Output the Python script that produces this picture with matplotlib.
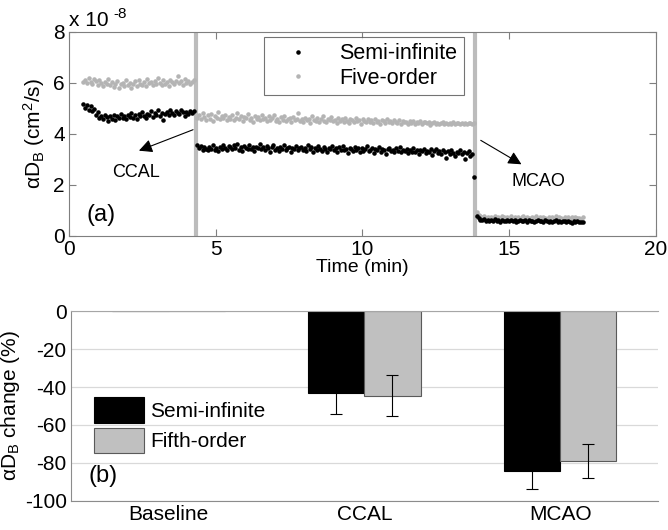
import numpy as np
import matplotlib
matplotlib.use("Agg")
import matplotlib.pyplot as plt

plt.rcParams['font.family'] = ['Liberation Sans', 'DejaVu Sans']
plt.rcParams['mathtext.fontset'] = 'custom'
plt.rcParams['mathtext.rm'] = 'Liberation Sans'
plt.rcParams['mathtext.it'] = 'Liberation Sans:italic'
plt.rcParams['axes.unicode_minus'] = False

# ---- panel (a): alpha*D_B time course, units of 1e-8 cm^2/s ----
t_base = (0.5, 4.25)
t_ccal = (4.38, 13.8)
t_mcao = (13.9, 17.5)
events = [4.32, 13.85]

semi_base = [5.15, 5.02, 5.12, 4.95, 5.08, 4.88, 4.98, 4.72, 4.85, 4.62, 4.70, 4.58, 4.75,
             4.66, 4.52, 4.68, 4.60, 4.73, 4.55, 4.70, 4.64, 4.78, 4.62, 4.69, 4.57, 4.74,
             4.66, 4.81, 4.63, 4.72, 4.58, 4.77, 4.68, 4.85, 4.70, 4.62, 4.79, 4.73, 4.88,
             4.67, 4.80, 4.74, 4.92, 4.71, 4.83, 4.55, 4.78, 4.86, 4.75, 4.95, 4.80, 4.72,
             4.89, 4.81, 4.76, 4.93, 4.84, 4.70, 4.87, 4.79, 4.91, 4.82, 4.88]
five_base = [6.05, 6.12, 5.98, 6.20, 6.02, 5.95, 6.15, 6.08, 5.92, 6.10, 6.00, 5.88, 6.05,
             5.97, 6.13, 5.90, 6.02, 5.85, 5.96, 6.08, 5.80, 5.94, 6.01, 5.87, 6.10, 5.93,
             5.99, 5.78, 5.95, 6.06, 5.89, 6.12, 5.97, 5.91, 6.04, 5.86, 6.15, 5.98, 6.03,
             5.90, 6.08, 5.95, 6.18, 6.00, 5.93, 6.10, 5.97, 6.05, 5.88, 6.12, 6.02, 5.94,
             6.08, 6.25, 5.99, 6.06, 5.92, 6.14, 6.00, 6.09, 5.96, 6.03, 6.11]

semi_ccal = [3.58, 3.45, 3.52, 3.38, 3.50, 3.42, 3.35, 3.48, 3.40, 3.55, 3.37, 3.46, 3.33, 3.50,
             3.41, 3.57, 3.44, 3.36, 3.52, 3.47, 3.39, 3.55, 3.43, 3.61, 3.38, 3.49, 3.34, 3.53,
             3.45, 3.40, 3.58, 3.42, 3.47, 3.31, 3.50, 3.44, 3.62, 3.39, 3.48, 3.36, 3.52, 3.43,
             3.30, 3.47, 3.55, 3.38, 3.45, 3.33, 3.50, 3.41, 3.58, 3.36, 3.44, 3.49, 3.28, 3.46,
             3.40, 3.53, 3.35, 3.43, 3.50, 3.38, 3.45, 3.32, 3.56, 3.41, 3.47, 3.29, 3.44, 3.37,
             3.52, 3.40, 3.34, 3.48, 3.42, 3.27, 3.45, 3.39, 3.51, 3.36, 3.43, 3.30, 3.47, 3.38,
             3.54, 3.35, 3.41, 3.26, 3.46, 3.39, 3.33, 3.49, 3.37, 3.43, 3.28, 3.45, 3.34, 3.40,
             3.52, 3.31, 3.38, 3.44, 3.25, 3.40, 3.35, 3.48, 3.30, 3.42, 3.36, 3.22, 3.39, 3.45,
             3.32, 3.37, 3.28, 3.43, 3.34, 3.50, 3.29, 3.38, 3.33, 3.41, 3.24, 3.36, 3.30, 3.45,
             3.27, 3.35, 3.20, 3.38, 3.31, 3.42, 3.26, 3.34, 3.29, 3.39, 3.18, 3.33, 3.40, 3.25,
             3.31, 3.22, 3.36, 3.28, 3.05, 3.33, 3.20, 3.38, 3.26, 3.12, 3.30, 3.24, 3.35, 3.19,
             3.28, 3.02, 3.25, 3.32, 3.15, 3.22, 2.32]
five_ccal = [4.62, 4.75, 4.58, 4.82, 4.66, 4.55, 4.72, 4.60, 4.78, 4.52, 4.68, 4.63, 4.85, 4.57,
             4.70, 4.61, 4.74, 4.54, 4.67, 4.59, 4.73, 4.56, 4.64, 4.80, 4.58, 4.69, 4.51, 4.66,
             4.62, 4.77, 4.55, 4.63, 4.48, 4.70, 4.59, 4.65, 4.53, 4.72, 4.57, 4.61, 4.50, 4.68,
             4.56, 4.62, 4.75, 4.52, 4.60, 4.47, 4.65, 4.55, 4.70, 4.49, 4.58, 4.63, 4.45, 4.67,
             4.54, 4.59, 4.82, 4.51, 4.57, 4.46, 4.64, 4.53, 4.60, 4.44, 4.69, 4.55, 4.50, 4.62,
             4.48, 4.58, 4.71, 4.52, 4.45, 4.60, 4.54, 4.66, 4.49, 4.56, 4.43, 4.61, 4.52, 4.57,
             4.47, 4.64, 4.50, 4.42, 4.58, 4.53, 4.46, 4.62, 4.49, 4.55, 4.40, 4.59, 4.51, 4.45,
             4.60, 4.48, 4.54, 4.42, 4.57, 4.47, 4.52, 4.38, 4.55, 4.49, 4.44, 4.60, 4.46, 4.51,
             4.41, 4.56, 4.48, 4.43, 4.53, 4.39, 4.50, 4.45, 4.47, 4.40, 4.52, 4.44, 4.49, 4.37,
             4.46, 4.42, 4.51, 4.39, 4.45, 4.48, 4.41, 4.46, 4.36, 4.43, 4.47, 4.40, 4.44, 4.38,
             4.42, 4.45, 4.39, 4.43, 4.37, 4.44, 4.40, 4.46, 4.38, 4.42, 4.41, 4.39, 4.44, 4.40,
             4.43, 4.38, 4.41, 4.42, 4.40, 4.43]

semi_mcao = [0.78, 0.70, 0.64, 0.61, 0.66, 0.59, 0.63, 0.57, 0.62, 0.60, 0.65, 0.58, 0.61, 0.56,
             0.63, 0.59, 0.60, 0.64, 0.57, 0.61, 0.58, 0.62, 0.55, 0.60, 0.63, 0.57, 0.59, 0.61,
             0.56, 0.62, 0.58, 0.60, 0.54, 0.59, 0.62, 0.57, 0.60, 0.55, 0.61, 0.58, 0.56, 0.60,
             0.53, 0.58, 0.61, 0.56, 0.59, 0.55, 0.57, 0.60, 0.54, 0.58, 0.56, 0.52, 0.59, 0.55,
             0.57, 0.53, 0.56, 0.54]
five_mcao = [0.95, 0.82, 0.76, 0.72, 0.78, 0.70, 0.74, 0.69, 0.75, 0.71, 0.77, 0.68, 0.73, 0.70,
             0.76, 0.72, 0.69, 0.74, 0.71, 0.78, 0.67, 0.73, 0.70, 0.75, 0.68, 0.72, 0.76, 0.69,
             0.74, 0.71, 0.66, 0.73, 0.70, 0.77, 0.68, 0.72, 0.69, 0.75, 0.71, 0.67, 0.74, 0.70,
             0.72, 0.68, 0.76, 0.69, 0.73, 0.71, 0.66, 0.74, 0.70, 0.72, 0.68, 0.73, 0.69, 0.75,
             0.70, 0.71, 0.67, 0.72]

# ---- panel (b): percent change ----
conditions = ['Baseline', 'CCAL', 'MCAO']
semi_change = [0, -43.0, -84.5]
semi_err = [0, 11.4, 9.3]
fifth_change = [0, -44.5, -79.0]
fifth_err = [0, 10.7, 9.0]


def seg_time(span, vals):
    return np.linspace(span[0], span[1], len(vals))


fig = plt.figure(figsize=(6.68, 5.3), dpi=100)
ax1 = fig.add_axes([0.103, 0.555, 0.879, 0.385])
ax2 = fig.add_axes([0.106, 0.055, 0.879, 0.358])

frame = '#7f7f7f'
grey = '#b4b4b4'

for xv in events:
    ax1.axvline(xv, color='#bcbcbc', lw=3, zorder=1)

first = True
for span, s, f in [(t_base, semi_base, five_base), (t_ccal, semi_ccal, five_ccal),
                   (t_mcao, semi_mcao, five_mcao)]:
    ax1.plot(seg_time(span, f), f, '.', color=grey, ms=4.5, zorder=2,
             label='Five-order' if first else None)
    ax1.plot(seg_time(span, s), s, '.', color='k', ms=4.5, zorder=3,
             label='Semi-infinite' if first else None)
    first = False

ax1.set_xlim(0, 20)
ax1.set_ylim(0, 8)
ax1.set_xticks([0, 5, 10, 15, 20])
ax1.set_yticks([0, 2, 4, 6, 8])
ax1.tick_params(direction='in', top=True, right=True, labelsize=15, color=frame,
                length=5, pad=3)
for sp in ax1.spines.values():
    sp.set_color(frame)
ax1.set_xlabel('Time (min)', fontsize=14, labelpad=0)
ax1.set_ylabel('αD$_\\mathrm{B}$ (cm$^2$/s)', fontsize=15, labelpad=4)
# exponent label drawn as plain text so the minus stays a hyphen
ax1.text(0.0, 1.01, 'x 10', transform=ax1.transAxes, fontsize=15,
         va='bottom', ha='left')
ax1.text(0.076, 1.055, '-8', transform=ax1.transAxes, fontsize=11,
         va='bottom', ha='left')
ax1.text(0.03, 0.1, '(a)', transform=ax1.transAxes, fontsize=17, va='center')

ax1.annotate('', xy=(2.3, 3.3), xytext=(4.32, 4.2),
             arrowprops=dict(arrowstyle='-|>', color='k', lw=0.8, mutation_scale=20))
ax1.text(2.28, 2.5, 'CCAL', fontsize=13, ha='center', va='center')
ax1.annotate('', xy=(15.5, 2.75), xytext=(13.95, 3.8),
             arrowprops=dict(arrowstyle='-|>', color='k', lw=0.8, mutation_scale=20))
ax1.text(16.0, 2.15, 'MCAO', fontsize=13, ha='center', va='center')

h, l = ax1.get_legend_handles_labels()
leg1 = ax1.legend(h[::-1], l[::-1], loc='upper left', bbox_to_anchor=(0.332, 0.975),
                  fontsize=15.5, fancybox=False, edgecolor='#505050', markerscale=1.0,
                  handlelength=2.6, handletextpad=0.6, borderpad=0.3, labelspacing=0.15,
                  borderaxespad=0)
leg1.get_frame().set_linewidth(0.8)

# panel (b)
x = np.arange(1, len(conditions) + 1)
w = 0.287
ax2.bar(x - w / 2, semi_change, w, color='k', edgecolor='k', lw=0.8,
        label='Semi-infinite', zorder=2)
ax2.bar(x + w / 2, fifth_change, w, color='#c0c0c0', edgecolor='#5a5a5a', lw=0.8,
        label='Fifth-order', zorder=2)
ax2.errorbar(x[1:] - w / 2, semi_change[1:], yerr=semi_err[1:], fmt='none', ecolor='k',
             elinewidth=0.8, capsize=4, capthick=0.8, zorder=3)
ax2.errorbar(x[1:] + w / 2, fifth_change[1:], yerr=fifth_err[1:], fmt='none', ecolor='k',
             elinewidth=0.8, capsize=4, capthick=0.8, zorder=3)

ax2.set_xlim(0.5, 3.5)
ax2.set_ylim(-100, 0)
ax2.set_yticks([0, -20, -40, -60, -80, -100])
ax2.set_xticks(x)
ax2.set_xticklabels(conditions)
ax2.grid(axis='y', color='#d9d9d9', lw=0.9, zorder=0)
ax2.set_axisbelow(True)
ax2.tick_params(length=0, labelsize=15, pad=3)
ax2.spines['right'].set_visible(False)
ax2.spines['top'].set_color('#a6a6a6')
ax2.spines['left'].set_color('#8c8c8c')
ax2.spines['bottom'].set_color('#8c8c8c')
ax2.set_ylabel('αD$_\\mathrm{B}$ change (%)', fontsize=15, labelpad=2)
ax2.text(0.03, 0.13, '(b)', transform=ax2.transAxes, fontsize=17, va='center')
ax2.legend(loc='upper left', bbox_to_anchor=(0.025, 0.59), fontsize=15, frameon=False,
           handlelength=2.4, handleheight=1.5, handletextpad=0.3, labelspacing=0.25,
           borderaxespad=0)

fig.savefig('out.png', dpi=100)
